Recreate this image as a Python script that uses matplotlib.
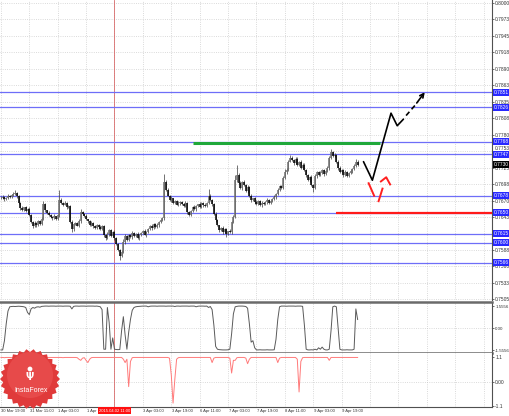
import matplotlib
matplotlib.use("Agg")
import matplotlib.pyplot as plt
import matplotlib.transforms as mtransforms
from matplotlib.patches import Polygon, Circle
import numpy as np

plt.rcParams['font.family'] = ['Liberation Sans', 'DejaVu Sans']

# ---------------- data ----------------
open0 = 0.7675
close = [
    0.7674, 0.7676, 0.7673, 0.7674, 0.7678, 0.7676, 0.7679, 0.7681, 0.7683, 0.7678,
    0.7666, 0.7658, 0.7654, 0.7659, 0.7653, 0.7656, 0.7646, 0.7634, 0.7628, 0.7633,
    0.7629, 0.7636, 0.7631, 0.7639, 0.7664, 0.7654, 0.7649, 0.7646, 0.7643, 0.7641,
    0.7644, 0.7639, 0.7646, 0.7671, 0.7666, 0.7663, 0.7666, 0.7659, 0.7661, 0.7634,
    0.7623, 0.7631, 0.7633, 0.7628, 0.7636, 0.7651, 0.7648, 0.7644, 0.7639, 0.7636,
    0.7629, 0.7633, 0.7628, 0.7624, 0.7629, 0.7626, 0.7623, 0.7628, 0.7613, 0.7608,
    0.7614, 0.7621, 0.7611, 0.7618, 0.7608, 0.7598, 0.7588, 0.7578, 0.7584, 0.7601,
    0.7611, 0.7604, 0.7613, 0.7609, 0.7616, 0.7611, 0.7614, 0.7608, 0.7613, 0.7616,
    0.7619, 0.7613, 0.7618, 0.7623, 0.7628, 0.7624, 0.7631, 0.7626, 0.7629, 0.7634,
    0.7638, 0.7641, 0.7701, 0.7688, 0.7678, 0.7671, 0.7674, 0.7666, 0.7669, 0.7663,
    0.7666, 0.7668, 0.7664, 0.7661, 0.7666, 0.7651, 0.7646, 0.7653, 0.7659, 0.7656,
    0.7661, 0.7664, 0.7659, 0.7666, 0.7663, 0.7661, 0.7666, 0.7678, 0.7671, 0.7664,
    0.7648, 0.7638, 0.7629, 0.7621, 0.7624, 0.7618, 0.7623, 0.7614, 0.7619, 0.7618,
    0.7634, 0.7643, 0.7704, 0.7713, 0.7699, 0.7691, 0.7701, 0.7696, 0.7686, 0.7693,
    0.7678, 0.7671, 0.7674, 0.7668, 0.7664, 0.7669, 0.7663, 0.7666, 0.7664, 0.7668,
    0.7671, 0.7666, 0.7669, 0.7673, 0.7676, 0.7681, 0.7688, 0.7694, 0.7691, 0.7708,
    0.7718, 0.7721, 0.7735, 0.7741, 0.7738, 0.7733, 0.7740, 0.7730, 0.7735, 0.7724,
    0.7730, 0.7721, 0.7713, 0.7704, 0.7709, 0.7696, 0.7691, 0.7711, 0.7718, 0.7713,
    0.7716, 0.7721, 0.7714, 0.7719, 0.7724, 0.7741, 0.7751, 0.7745, 0.7746, 0.7735,
    0.7724, 0.7718, 0.7721, 0.7713, 0.7718, 0.7711, 0.7716, 0.7719, 0.7723, 0.7728,
    0.7735, 0.7730,
]
upper_wick_pips = [
    2, 3, 1, 2, 3, 2, 2, 3, 5, 2,
    1, 2, 3, 1, 2, 2, 3, 1, 2, 3,
    2, 1, 2, 3, 6, 2, 1, 3, 2, 2,
    3, 1, 2, 17, 3, 2, 3, 1, 2, 2,
    3, 2, 1, 2, 3, 5, 2, 2, 3, 1,
    2, 3, 2, 1, 2, 2, 3, 2, 1, 2,
    3, 2, 2, 1, 3, 2, 1, 2, 3, 5,
    3, 2, 2, 1, 3, 2, 2, 3, 1, 2,
    2, 3, 1, 2, 2, 3, 2, 1, 3, 2,
    2, 2, 13, 4, 3, 2, 3, 1, 2, 2,
    3, 2, 1, 2, 3, 2, 2, 1, 2, 3,
    2, 1, 3, 2, 2, 3, 1, 12, 3, 2,
    2, 3, 2, 1, 2, 3, 2, 2, 1, 3,
    2, 3, 8, 17, 3, 4, 2, 3, 2, 3,
    2, 3, 1, 2, 3, 2, 2, 3, 1, 2,
    3, 2, 2, 1, 3, 2, 3, 2, 2, 3,
    4, 3, 2, 5, 3, 2, 3, 2, 1, 3,
    2, 3, 2, 1, 2, 3, 2, 3, 2, 2,
    3, 2, 1, 2, 3, 3, 5, 2, 3, 2,
    2, 3, 1, 2, 3, 2, 2, 3, 2, 3,
    5, 2,
]
lower_wick_pips = [
    2, 1, 3, 2, 1, 2, 2, 1, 2, 3,
    2, 3, 1, 2, 2, 3, 2, 1, 3, 2,
    3, 2, 2, 1, 2, 3, 2, 1, 2, 3,
    2, 2, 1, 3, 2, 2, 1, 3, 2, 2,
    5, 3, 2, 1, 2, 3, 2, 1, 2, 3,
    2, 2, 3, 1, 2, 3, 2, 2, 3, 4,
    2, 3, 1, 2, 3, 2, 2, 8, 3, 2,
    3, 1, 2, 2, 3, 1, 2, 2, 3, 2,
    2, 1, 3, 2, 2, 3, 1, 2, 2, 3,
    2, 2, 3, 2, 1, 2, 3, 2, 2, 1,
    2, 3, 1, 2, 2, 3, 2, 1, 2, 2,
    3, 2, 1, 2, 3, 2, 2, 1, 2, 3,
    2, 3, 2, 4, 2, 3, 2, 5, 2, 2,
    3, 2, 2, 3, 2, 1, 3, 2, 2, 3,
    2, 4, 2, 3, 1, 2, 2, 3, 2, 2,
    3, 2, 1, 2, 2, 3, 2, 2, 1, 2,
    2, 3, 2, 1, 2, 3, 2, 2, 3, 2,
    2, 1, 3, 2, 3, 2, 7, 2, 3, 2,
    2, 2, 3, 1, 2, 3, 2, 2, 3, 2,
    3, 2, 2, 3, 2, 1, 2, 2, 3, 2,
    2, 3,
]
osc1 = [
    -1.55, -1.55, -0.90, 0.30, 1.20, 1.50, 1.52, 1.53, 1.52, 1.53,
    1.54, 1.53, 1.52, 1.50, 1.45, 1.10, 0.95, 1.35, 1.45, 1.40,
    1.48, 1.50, 1.47, 1.53, 1.54, 1.55, 1.55, 1.54, 1.55, 1.55,
    1.55, 1.54, 1.55, 1.55, 1.55, 1.54, 1.55, 1.55, 1.55, 1.54,
    1.35, 1.53, 1.55, 1.55, 1.54, 1.55, 1.55, 1.55, 1.54, 1.55,
    1.55, 1.55, 1.55, 1.54, 1.55, 1.53, 1.50, 1.30, -1.50, -1.50,
    1.45, 0.40, -1.50, -0.70, -1.50, -1.52, -1.53, -1.52, -0.20, 0.80,
    -0.50, -1.50, -0.30, 0.60, 1.25, 1.45, 1.50, 1.52, 1.53, 1.54,
    1.55, 1.55, 1.55, 1.50, 1.54, 1.55, 1.55, 1.55, 1.54, 1.55,
    1.55, 1.55, 1.55, 1.54, 1.55, 1.55, 1.55, 1.55, 1.52, 1.55,
    1.55, 1.54, 1.55, 1.55, 1.55, 1.55, 1.54, 1.55, 1.55, 1.55,
    1.50, 1.54, 1.55, 1.55, 1.55, 1.54, 1.55, 1.45, 1.52, 1.30,
    0.20, -1.30, -1.50, -1.53, -1.54, -1.55, -1.55, -1.55, -1.54, -1.50,
    -0.40, 1.00, 1.50, 1.53, 1.55, 1.55, 1.55, 1.54, 1.52, 1.40,
    0.30, -1.00, -0.90, -1.40, -1.55, -1.55, -1.54, -1.55, -1.55, -1.55,
    -1.54, -1.55, -1.55, -1.55, -1.54, -0.80, 0.60, 1.50, 1.55, 1.55,
    1.55, 1.54, 1.55, 1.55, 1.55, 1.55, 1.54, 1.55, 1.55, 1.55,
    1.53, 0.20, -1.50, -1.55, -1.55, -1.54, -1.55, -1.50, -1.55, -1.40,
    -1.50, -1.35, -1.50, -1.55, -1.55, -1.50, -0.20, 1.50, 1.55, 1.50,
    0.00, -1.50, -1.55, -1.55, -1.55, -1.54, -1.55, -1.55, -1.55, -1.50,
    1.35, 0.60,
]
osc2 = [
    1.08, 1.08, 1.07, 1.08, 1.08, 1.08, 1.07, 1.08, 1.08, 1.08,
    1.08, 1.08, 1.08, 1.07, 1.05, 0.95, 0.85, 0.44, 0.95, 1.06,
    1.08, 1.08, 1.08, 1.08, 1.07, 1.08, 1.08, 1.08, 1.08, 1.08,
    1.08, 1.08, 1.08, 1.08, 1.08, 1.07, 1.08, 1.08, 1.08, 1.08,
    1.08, 1.08, 1.08, 1.07, 1.00, 0.95, 1.05, 1.07, 0.95, 0.85,
    1.00, 1.07, 1.08, 1.08, 1.08, 1.08, 1.08, 1.08, 1.08, 1.08,
    1.08, 1.08, 1.08, 1.08, 1.08, 1.08, 1.08, 1.08, 1.08, 1.00,
    0.85, 1.00, -0.23, 0.90, 1.07, 1.08, 1.08, 1.08, 1.08, 1.08,
    1.08, 1.08, 1.08, 1.08, 1.08, 1.08, 1.08, 1.08, 1.08, 1.08,
    1.08, 1.08, 1.08, 1.08, 1.08, 1.05, 0.30, -0.97, 0.10, 1.00,
    1.07, 1.08, 1.08, 1.08, 1.08, 1.08, 1.08, 1.08, 1.08, 1.08,
    1.08, 1.08, 1.08, 1.08, 1.08, 1.08, 1.08, 1.08, 1.08, 0.85,
    1.05, 1.08, 1.08, 1.08, 1.08, 1.08, 1.08, 1.08, 1.08, 1.05,
    0.38, 0.95, 0.95, 1.07, 1.08, 1.08, 1.08, 1.08, 1.05, 0.80,
    1.00, 1.08, 1.08, 1.08, 1.08, 1.08, 1.08, 1.08, 1.08, 1.08,
    1.08, 1.08, 1.08, 1.08, 1.08, 1.08, 0.85, 1.05, 1.08, 1.08,
    1.08, 1.08, 1.08, 1.08, 1.08, 1.08, 1.08, 1.00, -0.47, 0.90,
    1.07, 1.08, 1.08, 1.08, 1.08, 1.08, 1.08, 1.08, 1.08, 1.08,
    1.08, 1.08, 1.08, 1.08, 1.08, 0.95, 1.08, 1.08, 1.08, 1.08,
    1.08, 1.08, 1.08, 1.08, 1.08, 1.08, 1.08, 1.08, 1.08, 1.08,
    1.08, 1.08,
]

x_tick_labels = ["30 Mar 19:00", "31 Mar 11:00", "1 Apr 03:00", "1 Apr 19:00", "2 Apr 11:00",
                 "3 Apr 03:00", "3 Apr 19:00", "6 Apr 11:00", "7 Apr 03:00", "7 Apr 19:00",
                 "8 Apr 11:00", "9 Apr 03:00", "9 Apr 19:00"]
bars_per_label = 16
marker_bar = 64
marker_text = "2015.04.02 11:00"

y_tick_labels = ["0.8000", "0.7973", "0.7945", "0.7918", "0.7890", "0.7863", "0.7835",
                 "0.7808", "0.7780", "0.7753", "0.7725", "0.7698", "0.7670", "0.7643",
                 "0.7615", "0.7588", "0.7560", "0.7533", "0.7505"]
y_tick_values = [0.8000, 0.79725, 0.7945, 0.79175, 0.7890, 0.78625, 0.7835,
                 0.78075, 0.7780, 0.77525, 0.7725, 0.76975, 0.7670, 0.76425,
                 0.7615, 0.75875, 0.7560, 0.75325, 0.7505]

blue_levels = [0.7851, 0.7826, 0.7768, 0.7747, 0.7678, 0.7650, 0.7615, 0.7600, 0.7566]
green_level = 0.7767
green_from_bar, green_to_bar = 108.2, 213.5
red_level = 0.7650
red_from_bar = 188.7

fc_black_bar = [204.3, 209.3, 219.8, 223.3, 226.8]
fc_black_price = [0.7735, 0.7704, 0.7816, 0.7795, 0.7806]
fc_dash_bar = [228.3, 233.3]
fc_dash_price = [0.7812, 0.7829]
fc_arrow_from = (234.3, 0.7833)
fc_arrow_to = (238.8, 0.7851)
fc_red_seg1_bar, fc_red_seg1_price = [207.2, 210.3], [0.7699, 0.7678]
fc_red_seg2_bar, fc_red_seg2_price = [212.8, 215.0], [0.7669, 0.7690]
fc_red_head_bar, fc_red_head_price = [214.1, 217.1, 219.3], [0.7702, 0.7709, 0.7697]

osc1_ticks, osc1_labels = [1.5556, 0.0, -1.5556], ["1.5556", "0.00", "-1.5556"]
osc2_ticks, osc2_labels = [1.1, 0.0, -1.1], ["1.1", "0.00", "-1.1"]

# ---------------- figure ----------------
W, H, DPI = 510, 416, 100
fig = plt.figure(figsize=(W / DPI, H / DPI), dpi=DPI)
fig.patch.set_facecolor('white')


def px_axes(x0, y0, x1, y1, z=1):
    return fig.add_axes([x0 / W, 1 - y1 / H, (x1 - x0) / W, (y1 - y0) / H], zorder=z)


ax = px_axes(0, 0, 492, 300)
ax1 = px_axes(0, 302, 492, 353)
ax2 = px_axes(0, 353, 492, 407)

X_MIN, X_MAX = -0.5, 276.7
GRID = dict(color='#c4c4c4', lw=0.5, ls=(0, (1.2, 2.0)))
AXC = '#505050'
FS = 3.5

for a in (ax, ax1, ax2):
    a.set_xlim(X_MIN, X_MAX)
    a.set_xticks([])
    for xt in range(0, int(X_MAX) + 1, bars_per_label):
        a.axvline(xt, zorder=0, **GRID)
    for s in ('left', 'top', 'bottom'):
        a.spines[s].set_visible(False)
    a.spines['right'].set_color(AXC)
    a.spines['right'].set_linewidth(0.8)
    a.yaxis.tick_right()
    a.tick_params(axis='y', length=1.5, width=0.5, pad=0.8, colors='#333333', labelsize=FS)
    a.axvline(marker_bar, color='#d86a6a', lw=0.6, zorder=1)

# main panel
ax.set_ylim(0.8005 - 300 * 0.000167, 0.8005)
ax.set_yticks(y_tick_values)
# tick labels hidden where a price box sits on top of them (as in the terminal)
box_levels = blue_levels + [close[-1]]
shown = [lab if min(abs(v - b) for b in box_levels) > 0.0004 else ''
         for v, lab in zip(y_tick_values, y_tick_labels)]
ax.set_yticklabels(shown)
for lab in ax.get_yticklabels():
    lab.set_va('bottom' if lab.get_text() == '0.7753' else 'center_baseline')
for t in y_tick_values:
    ax.axhline(t, zorder=0, **GRID)

close_a = np.array(close)
opens = np.concatenate([[open0], close_a[:-1]])
hi = np.maximum(opens, close_a) + np.array(upper_wick_pips) * 0.0001
lo = np.minimum(opens, close_a) - np.array(lower_wick_pips) * 0.0001
idx = np.arange(len(close_a))
ax.vlines(idx, lo, hi, color='#3a3a3a', lw=0.5, zorder=3)
up = close_a >= opens
ax.vlines(idx[up], opens[up], close_a[up], color='#6e6e6e', lw=1.1, zorder=4)
ax.vlines(idx[~up], close_a[~up], opens[~up], color='#000000', lw=1.1, zorder=4)

for v in blue_levels:
    ax.axhline(v, color='#6e6ef8', lw=0.9, zorder=2)
ax.hlines(green_level, green_from_bar, green_to_bar, color='#1fa83a', lw=2.2, zorder=5)
ax.hlines(red_level, red_from_bar, X_MAX, color='#ff1a1a', lw=1.6, zorder=5)

ax.plot(fc_black_bar, fc_black_price, color='black', lw=1.2, zorder=6, solid_capstyle='round')
ax.plot(fc_dash_bar, fc_dash_price, color='black', lw=1.2, ls=(0, (3, 2)), zorder=6)
ax.annotate('', xy=fc_arrow_to, xytext=fc_arrow_from,
            arrowprops=dict(arrowstyle='->', color='black', lw=1.2, mutation_scale=7,
                            shrinkA=0, shrinkB=0), zorder=6)
for bx, py in ((fc_red_seg1_bar, fc_red_seg1_price), (fc_red_seg2_bar, fc_red_seg2_price),
               (fc_red_head_bar, fc_red_head_price)):
    ax.plot(bx, py, color='#ff2020', lw=1.4, zorder=6)

trans = mtransforms.blended_transform_factory(ax.transAxes, ax.transData)
for v in blue_levels:
    ax.text(1.004, v, f"{v:.4f}", transform=trans, ha='left', va='center', fontsize=FS,
            color='white', zorder=20, clip_on=False,
            bbox=dict(boxstyle='square,pad=0.2', fc='#2828ff', ec='none'))
ax.text(1.004, close[-1], f"{close[-1]:.4f}", transform=trans, ha='left', va='center',
        fontsize=FS, color='white', zorder=21, clip_on=False,
        bbox=dict(boxstyle='square,pad=0.2', fc='#000000', ec='none'))

# oscillator 1
ax1.set_ylim(-1.7677, 1.8385)
ax1.set_yticks(osc1_ticks)
ax1.set_yticklabels(osc1_labels)
ax1.tick_params(axis='y', labelsize=3.2)
ax1.axhline(0, zorder=0, **GRID)
ax1.plot(idx, osc1, color='#5a5a5a', lw=0.7, zorder=3)
for s in ('top', 'bottom'):
    ax1.spines[s].set_visible(True)
    ax1.spines[s].set_color('#6a6a6a')
    ax1.spines[s].set_linewidth(1.8)

# oscillator 2
ax2.set_ylim(-1.1449, 1.2796)
ax2.set_yticks(osc2_ticks)
ax2.set_yticklabels(osc2_labels)
ax2.axhline(0, zorder=0, **GRID)
ax2.plot(idx, osc2, color='#ff7a7a', lw=0.7, zorder=3)
ax2.spines['bottom'].set_visible(True)
ax2.spines['bottom'].set_color(AXC)
ax2.spines['bottom'].set_linewidth(0.8)

# x labels
trans2 = mtransforms.blended_transform_factory(ax2.transData, ax2.transAxes)
for k, lab in enumerate(x_tick_labels):
    b = k * bars_per_label
    if b == marker_bar:
        continue
    if b == marker_bar - bars_per_label:
        lab = lab.split(' 19')[0]  # the date box hides the time part here
    ax2.text(b + 0.3, -0.03, lab, transform=trans2, ha='left', va='top', fontsize=3.0,
             color='#333333', clip_on=False)
ax2.text(marker_bar, -0.03, marker_text, transform=trans2, ha='center', va='top', fontsize=3.0,
         color='white', clip_on=False, zorder=20,
         bbox=dict(boxstyle='square,pad=0.3', fc='#ff1010', ec='none'))

# logo overlay
lax = fig.add_axes([0, 0, 1, 1], zorder=30)
lax.set_xlim(0, W)
lax.set_ylim(H, 0)
lax.axis('off')
cx, cy = 30, 379
npts = 26
ang = np.linspace(0, 2 * np.pi, 2 * npts, endpoint=False)
rad = np.where(np.arange(2 * npts) % 2 == 0, 30.0, 27.0)
lax.add_patch(Polygon(np.column_stack([cx + rad * np.cos(ang), cy + rad * np.sin(ang)]),
                      closed=True, fc='#e03a3a', ec='none'))
lax.add_patch(Circle((cx, cy - 4), 23, fc='#ec5656', ec='none', alpha=0.6))
lax.add_patch(Circle((cx, 369), 2.4, fc='white', ec='none'))
lax.text(cx, 377, "Ψ", color='white', fontsize=7, ha='center', va='center', fontweight='bold',
         family='DejaVu Sans')
lax.text(cx + 1, 391, "InstaForex", color='white', fontsize=5.0, ha='center', va='center')

fig.savefig('out.png', dpi=DPI, facecolor='white')
